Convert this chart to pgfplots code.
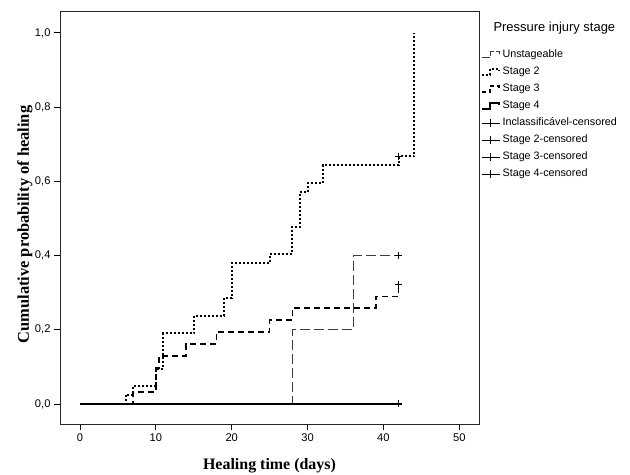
\documentclass[border=0pt]{standalone}
\usepackage{pgfplots}
\pgfplotsset{compat=1.18}
\usepackage{fontspec}
\setmainfont{Liberation Sans}
\newfontfamily\labelfont{Liberation Serif}
\definecolor{unstg}{RGB}{60,60,60}
\pgfplotsset{
  stepimg/.style={legend image code/.code={\draw[##1,#1] (0bp,-3bp) -- (8bp,-3bp) -- (8bp,3bp) -- (17bp,3bp) -- (17bp,1bp);}},
  cens/.style={only marks, mark=+, mark size=3.5bp, black, line width=1.1bp,
    legend image code/.code={\draw[black, line width=0.8bp] (0bp,0bp) -- (18bp,0bp); \draw[black, line width=0.8bp] (8bp,-4bp) -- (8bp,4bp);}},
}
\begin{document}
\begin{tikzpicture}[x=1bp,y=1bp]
\useasboundingbox (0,0) rectangle (630,475);
\begin{axis}[
  at={(60bp,51bp)}, anchor=south west,
  scale only axis, width=419bp, height=413bp,
  xmin=-2.64, xmax=52.6, ymin=-0.054, ymax=1.059,
  xtick={0,10,20,30,40,50}, ytick={0,0.2,0.4,0.6,0.8,1.0},
  xtick pos=bottom, ytick pos=left, tick align=outside,
  major tick length=6bp,
  tick style={black, line width=0.8bp},
  axis line style={black!85, line width=0.9bp},
  /pgf/number format/assume math mode=true,
  yticklabel style={/pgf/number format/.cd, use comma, fixed, fixed zerofill, precision=1},
  ticklabel style={font=\fontsize{11.2}{13}\selectfont},
  xlabel={\labelfont\bfseries Healing time (days)},
  ylabel={\labelfont\bfseries Cumulative probability of healing},
  xlabel style={at={(axis description cs:0.5,-0.101)}, anchor=center, font=\fontsize{16}{18}\selectfont},
  ylabel style={at={(axis description cs:-0.0835,0.483)}, anchor=center, font=\fontsize{16.5}{18}\selectfont},
  legend style={draw=none, fill=none, at={(1,1)}, anchor=north west, xshift=2bp, yshift=-38.5bp,
     font=\fontsize{10.8}{12}\selectfont, inner xsep=0pt, inner ysep=0pt,
     /tikz/row sep=6.5bp,
     nodes={inner ysep=0pt, inner xsep=2bp, text height=8bp, text depth=2.5bp}},
  legend cell align=left,
]
% Unstageable
\addplot[const plot, unstg, line width=1bp, dash pattern=on 10bp off 4bp,
  stepimg={dash pattern=on 8bp off 2bp}]
  coordinates {(0,0) (28,0.2) (36,0.4) (42,0.4)};
\addlegendentry{Unstageable}
% Stage 2
\addplot[const plot, black, line width=2bp, dash pattern=on 2bp off 2bp, stepimg={}]
  coordinates {(0,0) (6,0.024) (7,0.048) (10,0.095) (11,0.190) (15,0.238) (19,0.286)
   (20,0.381) (25,0.405) (28,0.476) (29,0.571) (30,0.595) (32,0.643) (42,0.667) (44,1.0)};
\addlegendentry{Stage 2}
% Stage 3
\addplot[const plot, black, line width=1.5bp, dash pattern=on 6bp off 4bp,
  stepimg={dash pattern=on 4bp off 3bp}]
  coordinates {(0,0) (7,0.032) (10,0.097) (10.4,0.129) (14,0.161) (18,0.194) (25,0.226)
   (28,0.258) (39,0.290) (42,0.323)};
\addlegendentry{Stage 3}
% Stage 4
\addplot[const plot, black, line width=1.6bp, stepimg={}]
  coordinates {(0,0) (42,0)};
\addlegendentry{Stage 4}
% censored marks
\addplot[cens] coordinates {(42,0.4)};
\addlegendentry{Inclassificável-censored}
\addplot[cens] coordinates {(42,0.667)};
\addlegendentry{Stage 2-censored}
\addplot[cens] coordinates {(42,0.323)};
\addlegendentry{Stage 3-censored}
\addplot[cens] coordinates {(42,0)};
\addlegendentry{Stage 4-censored}
\end{axis}
\node[font=\fontsize{13}{15}\selectfont, anchor=west] at (490bp,447bp) {Pressure injury stage};
\end{tikzpicture}
\end{document}
